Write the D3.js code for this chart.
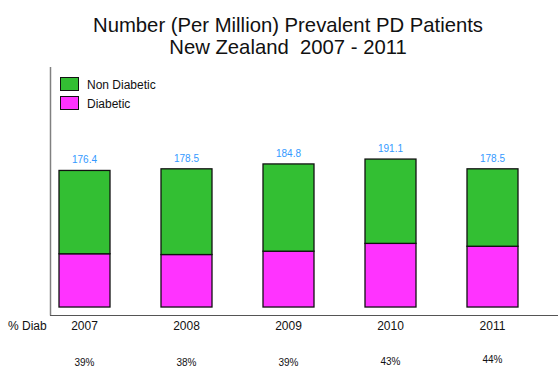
<!DOCTYPE html>
<html><head><meta charset="utf-8">
<script src="https://cdn.jsdelivr.net/npm/d3@7"></script>
<style>body{margin:0;background:#fff}svg{display:block}text{font-family:Arial,"Liberation Sans",sans-serif;white-space:pre}</style>
</head><body>
<svg id="c" width="558" height="367"></svg>
<script>
const years = ["2007","2008","2009","2010","2011"];
const totals = [176.4, 178.5, 184.8, 191.1, 178.5];
const diabetic = [68.8, 67.8, 72.1, 82.2, 78.5];
const nonDiabetic = [107.6, 110.7, 112.7, 108.9, 100.0];
const pctLabels = ["39%","38%","39%","43%","44%"];
const seriesNames = ["Non Diabetic","Diabetic"];
const colors = {"Non Diabetic":"#33BF33","Diabetic":"#FF33FF"};

const svg = d3.select("#c");
const x = d3.scaleBand().domain(years).range([33, 543]).paddingInner(0.5).paddingOuter(0.25);
const y = d3.scaleLinear().domain([-10.3, 310]).range([315, 67]);

// title
svg.append("text").attr("x",288).attr("y",32).attr("text-anchor","middle").attr("font-size",20.3).attr("fill","#111").text("Number (Per Million) Prevalent PD Patients");
svg.append("text").attr("x",288).attr("y",54).attr("text-anchor","middle").attr("font-size",20.3).attr("fill","#111").text("New Zealand  2007 - 2011");

// axes lines
svg.append("line").attr("x1",50.5).attr("x2",50.5).attr("y1",67).attr("y2",315.5).attr("stroke","#808080").attr("stroke-width",1.5);
svg.append("line").attr("x1",50).attr("x2",558).attr("y1",315.5).attr("y2",315.5).attr("stroke","#555").attr("stroke-width",1.2);

const rows = years.map((yr,i)=>({year:yr, "Diabetic":diabetic[i], "Non Diabetic":nonDiabetic[i]}));
const stack = d3.stack().keys(["Diabetic","Non Diabetic"])(rows);

svg.append("g").selectAll("g").data(stack).join("g")
  .attr("fill", d=>colors[d.key])
  .selectAll("rect").data(d=>d).join("rect")
  .attr("x", d=>x(d.data.year)+0.5)
  .attr("width", x.bandwidth())
  .attr("y", d=>y(d[1]))
  .attr("height", d=>y(d[0])-y(d[1]))
  .attr("stroke","#111").attr("stroke-width",1.3);

// value labels
svg.append("g").selectAll("text").data(years).join("text")
  .attr("x", d=>x(d)+x.bandwidth()/2+0.5)
  .attr("y", (d,i)=>y(totals[i])-7)
  .attr("text-anchor","middle").attr("font-size",10).attr("fill","#3399FF")
  .text((d,i)=>totals[i].toFixed(1));

// year labels
svg.append("g").selectAll("text").data(years).join("text")
  .attr("x", d=>x(d)+x.bandwidth()/2+0.5).attr("y",330)
  .attr("text-anchor","middle").attr("font-size",12).attr("fill","#111").text(d=>d);
svg.append("text").attr("x",8).attr("y",330).attr("font-size",12).attr("fill","#111").text("% Diab");

// percent labels
const pctY = [366,366,366,365,363];
svg.append("g").selectAll("text").data(pctLabels).join("text")
  .attr("x", (d,i)=>x(years[i])+x.bandwidth()/2+0.5).attr("y",(d,i)=>pctY[i])
  .attr("text-anchor","middle").attr("font-size",10).attr("fill","#111").text(d=>d);

// legend
const lg = svg.append("g");
seriesNames.forEach((n,i)=>{
  lg.append("rect").attr("x",60.5).attr("y",77.5+i*19).attr("width",18).attr("height",13)
    .attr("fill",colors[n]).attr("stroke","#111").attr("stroke-width",1);
  lg.append("text").attr("x",87).attr("y",89+i*19).attr("font-size",12).attr("fill","#111").text(n);
});
</script>
</body></html>
